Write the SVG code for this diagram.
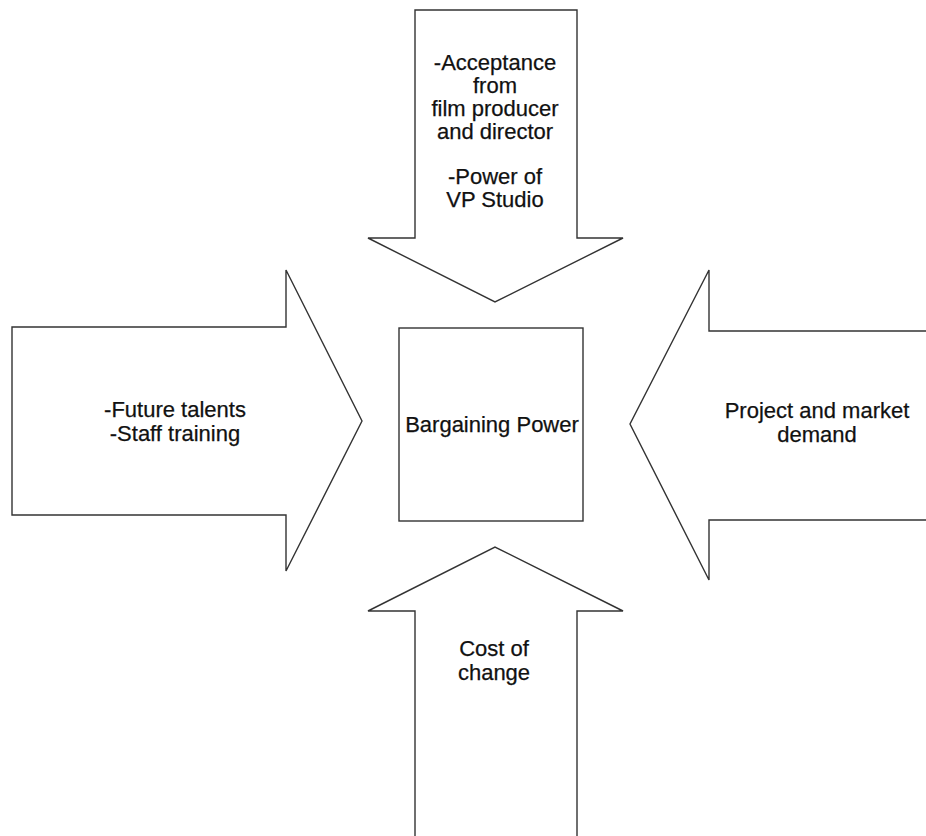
<svg xmlns="http://www.w3.org/2000/svg" width="926" height="836" viewBox="0 0 926 836">
  <style>
    .shape { fill: #ffffff; stroke: #333333; stroke-width: 1.4; stroke-linejoin: miter; }
    .label { font-family: "Liberation Sans", Arial, sans-serif; font-size: 22px; fill: #111111; text-anchor: middle; stroke: #111111; stroke-width: 0.25; }
  </style>
  <rect width="926" height="836" fill="#ffffff"/>

  <!-- Force arrows pointing at the centre box -->
  <g id="connectors"/>

  <g id="arrow-top">
    <polygon class="shape" points="415,10 577,10 577,238 623,238 495,302 368,238 415,238"/>
    <text class="label" x="495" y="70">-Acceptance</text>
    <text class="label" x="495" y="93">from</text>
    <text class="label" x="495" y="116">film producer</text>
    <text class="label" x="495" y="139">and director</text>
    <text class="label" x="495" y="184">-Power of</text>
    <text class="label" x="495" y="207">VP Studio</text>
  </g>

  <g id="arrow-left">
    <polygon class="shape" points="12,327 286,327 286,270 362,421 286,571 286,515 12,515"/>
    <text class="label" x="175" y="417">-Future talents</text>
    <text class="label" x="175" y="441">-Staff training</text>
  </g>

  <g id="arrow-right">
    <polygon class="shape" points="930,331 709,331 709,270 630,424 709,580 709,520 930,520"/>
    <text class="label" x="817" y="418">Project and market</text>
    <text class="label" x="817" y="442">demand</text>
  </g>

  <g id="arrow-bottom">
    <polygon class="shape" points="415,840 415,611 368,611 495,547 623,611 577,611 577,840"/>
    <text class="label" x="494" y="656">Cost of</text>
    <text class="label" x="494" y="680">change</text>
  </g>

  <g id="bargaining-power">
    <rect class="shape" x="399" y="328" width="184" height="193"/>
    <text class="label" x="492" y="432">Bargaining Power</text>
  </g>
</svg>
